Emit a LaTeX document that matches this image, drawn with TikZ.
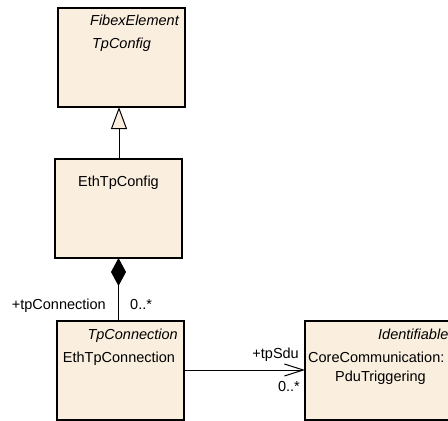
\documentclass[tikz,border=0pt]{standalone}
\usepackage{fontspec}
\setmainfont{Liberation Sans}
\usetikzlibrary{arrows.meta}
\definecolor{boxfill}{RGB}{250,238,222}
\tikzset{
  boxpath/.style={draw=black, fill=boxfill, line width=1.1pt},
  boxanchor/.style={inner sep=0pt, pos=0.5, shape=rectangle, minimum width=#1},
  lbl/.style={inner sep=0pt, font=\fontsize{14.5}{17}\selectfont},
  ilbl/.style={lbl, font=\fontsize{14.5}{17}\selectfont\itshape},
  conn/.style={draw=black, line width=1pt},
}
\begin{document}
\begin{tikzpicture}[x=1pt,y=-1pt]
\useasboundingbox (0,0) rectangle (448,421);
\begin{scope}
\clip (0,0) rectangle (448,421);
% boxes
\draw[boxpath] (58,8) rectangle (185,107) node[boxanchor=127pt, minimum height=99pt] (tpconfig) {};
\draw[boxpath] (55,159) rectangle (182,258) node[boxanchor=127pt, minimum height=99pt] (ethtpconfig) {};
\draw[boxpath] (57,321) rectangle (184,420) node[boxanchor=127pt, minimum height=99pt] (ethtpconn) {};
\draw[boxpath] (305,321) rectangle (460,420) node[boxanchor=155pt, minimum height=99pt] (pdutrig) {};
% texts
\node[ilbl, anchor=base east] (t1) at (179,25) {FibexElement};
\node[ilbl, anchor=base] (t2) at (121.5,48) {TpConfig};
\node[lbl, anchor=base] (t3) at (118.5,186) {EthTpConfig};
\node[ilbl, anchor=base east] (t4) at (178,339) {TpConnection};
\node[lbl, anchor=base] (t5) at (119,362) {EthTpConnection};
\node[ilbl, anchor=base west] (t6) at (378,339) {Identifiable};
\node[lbl, anchor=base west] (t7) at (308,362) {CoreCommunication:};
\node[lbl, anchor=base] (t8) at (380.5,381) {PduTriggering};
% connector end points
\coordinate (g1) at (119,159);
\coordinate (g2) at (119,107);
\coordinate (c1) at (118.5,258);
\coordinate (c2) at (118.5,321);
\coordinate (a1) at (184,370);
\coordinate (a2) at (305,370);
% connectors
\draw[conn, -{Triangle[open, length=22pt, width=16pt, fill=boxfill]}] (g1) -- (g2);
\draw[conn, {Diamond[length=28pt, width=15pt]}-] (c1) -- (c2);
\node[lbl, anchor=base east] (r1) at (106,309) {+tpConnection};
\node[lbl, anchor=base west] (m1) at (130,309) {0..*};
\draw[conn, -{Straight Barb[length=19pt, width=12pt]}] (a1) -- (a2);
\node[lbl, anchor=base east] (r2) at (299,358) {+tpSdu};
\node[lbl, anchor=base east] (m2) at (300,391) {0..*};
\end{scope}
\end{tikzpicture}
\end{document}
